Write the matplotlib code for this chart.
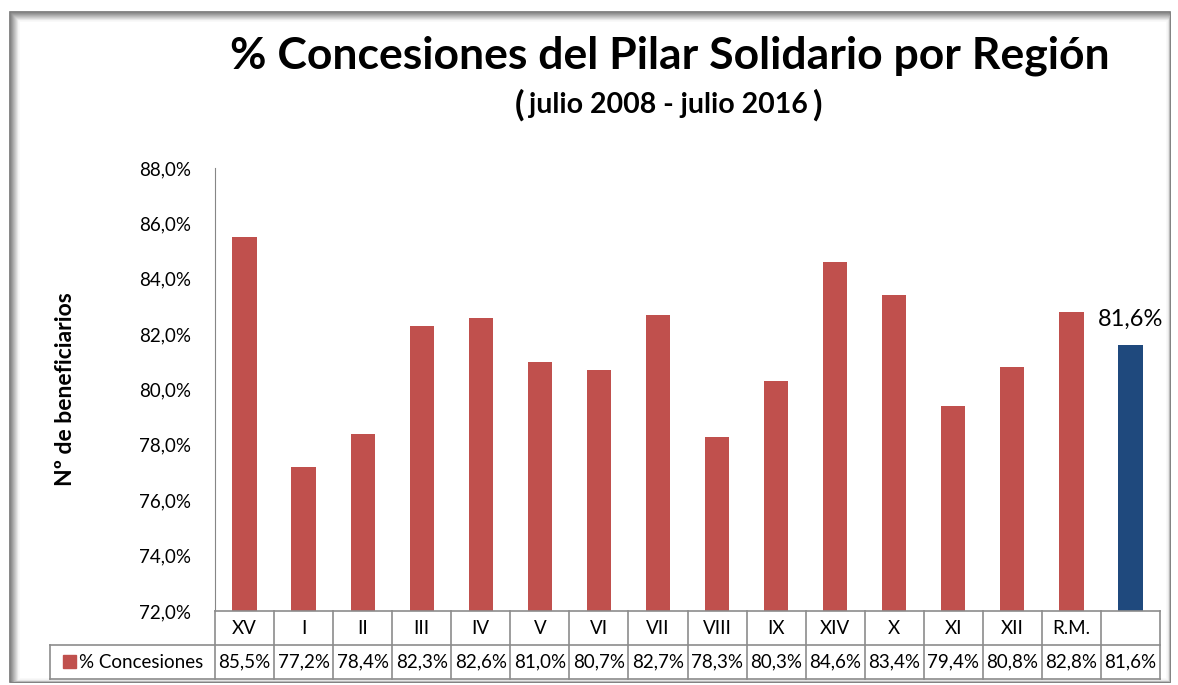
import matplotlib.pyplot as plt
from matplotlib.patches import Rectangle

plt.rcParams['font.family'] = ['Lato', 'DejaVu Sans']

# Datos
regiones = ["XV", "I", "II", "III", "IV", "V", "VI", "VII", "VIII",
            "IX", "XIV", "X", "XI", "XII", "R.M.", ""]
valores = [85.5, 77.2, 78.4, 82.3, 82.6, 81.0, 80.7, 82.7, 78.3,
           80.3, 84.6, 83.4, 79.4, 80.8, 82.8, 81.6]
serie = "% Concesiones"
yticks = [72, 74, 76, 78, 80, 82, 84, 86, 88]

W, H = 1178, 685
fig = plt.figure(figsize=(W / 100, H / 100), dpi=100)


def fx(px):
    return px / W


def fy(py):
    return 1 - py / H


# Marco con sombra
for i in range(10):
    g = 0.45 + i * 0.058
    x0, y0, x1, y1 = 10 + i, 12 + i, 1170 - i * 0.3, 682 - i * 0.3
    fig.patches.append(Rectangle((fx(x0), fy(y1)), fx(x1 - x0), (y1 - y0) / H,
                                 transform=fig.transFigure, fill=False,
                                 edgecolor=(g, g, g), lw=1.2))

left, right, top, bottom = 215, 1160, 168, 611
ax = fig.add_axes([fx(left), fy(bottom), fx(right - left), fy(top) - fy(bottom)])

x = list(range(len(regiones)))
colores = ["#C0504D"] * (len(regiones) - 1) + ["#1F497D"]
ax.bar(x, [v - 72 for v in valores], bottom=72, width=0.41, color=colores)

ax.set_xlim(-0.5, len(regiones) - 0.5)
ax.set_ylim(72, 88)
ax.set_yticks(yticks)
ax.set_yticklabels([f"{t:.1f}%".replace(".", ",") for t in yticks], fontsize=13.5)
ax.tick_params(axis="y", length=0, pad=17)
ax.set_xticks([])
for s in ["top", "right", "bottom"]:
    ax.spines[s].set_visible(False)
ax.spines["left"].set_color("#868686")

ax.text(x[-1] + 0.0, valores[-1] + 0.55, f"{valores[-1]:.1f}%".replace(".", ","),
        ha="center", va="bottom", fontsize=17)

ax.set_ylabel("Nº de beneficiarios", fontsize=16.5, fontweight="bold", labelpad=46)

# Tabla de datos
gris = "#8C8C8C"
r1, r2, r3 = 611, 645, 679
colw = (right - left) / len(regiones)
fig.add_artist(plt.Line2D([fx(left), fx(right)], [fy(r1), fy(r1)], color=gris, lw=1.2))
fig.add_artist(plt.Line2D([fx(50), fx(right)], [fy(r2), fy(r2)], color=gris, lw=1.2))
fig.add_artist(plt.Line2D([fx(50), fx(right)], [fy(r3), fy(r3)], color=gris, lw=1.2))
fig.add_artist(plt.Line2D([fx(50), fx(50)], [fy(r2), fy(r3)], color=gris, lw=1.2))
for i in range(len(regiones) + 1):
    xx = left + i * colw
    fig.add_artist(plt.Line2D([fx(xx), fx(xx)], [fy(r1), fy(r3)], color=gris, lw=1.2))
for i, (reg, val) in enumerate(zip(regiones, valores)):
    cx = left + (i + 0.5) * colw
    fig.text(fx(cx), fy((r1 + r2) / 2), reg, ha="center", va="center", fontsize=13.5)
    fig.text(fx(cx), fy((r2 + r3) / 2), f"{val:.1f}%".replace(".", ","),
             ha="center", va="center", fontsize=13.5)
fig.patches.append(Rectangle((fx(63), fy(668)), 13 / W, 13 / H,
                             transform=fig.transFigure, color="#C0504D"))
fig.text(fx(79), fy((r2 + r3) / 2), serie, ha="left", va="center", fontsize=13.5)

# Títulos
fig.text(fx(670), fy(56), "% Concesiones del Pilar Solidario por Región",
         ha="center", va="center", fontsize=32, fontweight="bold")
fig.text(fx(520), fy(105), "(", ha="center", va="center", fontsize=25, fontweight="bold")
fig.text(fx(668), fy(105), "julio 2008 - julio 2016", ha="center", va="center",
         fontsize=20.5, fontweight="bold")
fig.text(fx(817), fy(105), ")", ha="center", va="center", fontsize=25, fontweight="bold")

fig.savefig("out.png", dpi=100)
